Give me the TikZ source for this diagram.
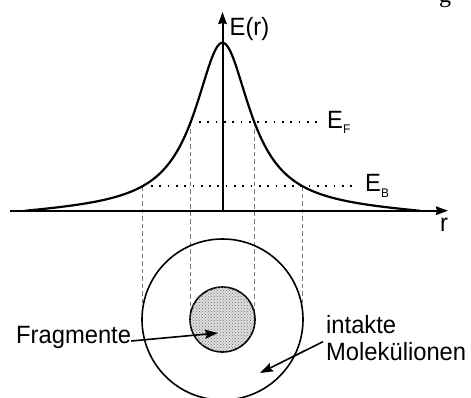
\documentclass[tikz,border=0pt]{standalone}
\usepackage{fontspec}
\usepackage{graphicx}
\setmainfont{Liberation Sans}
\newfontfamily\serifg{Liberation Serif}
\usetikzlibrary{arrows.meta,patterns}
\newcommand\lbltext[1]{\fontsize{25}{27}\selectfont\scalebox{0.95}[1]{#1}}
\newcommand\subtxt[2]{\raisebox{#1}{\fontsize{12.5}{13}\selectfont #2}}
\begin{document}
\begin{tikzpicture}[x=1pt,y=-1pt,
  declare function={h(\r)=168/(1+(\r/33.7)*(\r/33.7))-4.8*(\r/197.5)*(\r/197.5);},
  axisline/.style={line width=2pt,-{Stealth[length=12pt,width=8.5pt,inset=1pt]}},
  curveline/.style={line width=2.2pt},
  dotline/.style={line width=1.7pt,dash pattern=on 1.7pt off 6.6pt},
  dashline/.style={line width=0.6pt,gray,dash pattern=on 4.5pt off 3pt},
  ring/.style={circle,draw,line width=1.6pt,inner sep=0pt},
  ptr/.style={line width=1.6pt,-{Stealth[length=13pt,width=9pt,inset=2pt]}},
  lab/.style={inner sep=0pt,anchor=base west}]
\useasboundingbox (0,0) rectangle (471,397);
\clip (0,0) rectangle (471,397);

% key points
\coordinate (o) at (222.5,210.7);
\coordinate (xl) at (10,210.7);
\coordinate (xe) at (448,210.7);
\coordinate (ye) at (222.5,12);
\coordinate (bl) at (142.7,{210.7-h(-79.8)});
\coordinate (fl) at (190.7,{210.7-h(-31.8)});
\coordinate (fr) at (254.3,{210.7-h(31.8)});
\coordinate (br) at (302.3,{210.7-h(79.8)});
\coordinate (fend) at (320,0);
\coordinate (bend) at (357,0);
\coordinate (obot) at (0,304);
\coordinate (ibot) at (0,317);

% projection lines
\draw[dashline] (bl) -- (bl |- obot);
\draw[dashline] (br) -- (br |- obot);
\draw[dashline] (fl) -- (fl |- ibot);
\draw[dashline] (fr) -- (fr |- ibot);

% energy levels
\draw[dotline] (fl) -- (fl -| fend);
\draw[dotline] (bl) -- (bl -| bend);

% curve
\draw[curveline] plot[domain=-197.5:197.5,samples=241,smooth] ({222.5+\x},{210.7-h(\x)});

% axes
\draw[axisline] (xl) -- (xe);
\draw[axisline] (o) -- (ye);

% circles
\node[ring,minimum size=161pt] (outer) at (222.5,319.5) {};
\node[ring,minimum size=65pt,fill=black!13,postaction={pattern=crosshatch dots,pattern color=black!55}] (inner) at (222.5,319.5) {};

% labels
\node[lab] (Er) at (229.5,35) {\lbltext{E(r)}};
\node[lab] (EF) at (327,128) {\lbltext{E\subtxt{-5pt}{F}}};
\node[lab] (EB) at (365,191) {\lbltext{E\subtxt{-6pt}{B}}};
\node[lab] (rl) at (440,231) {\lbltext{r}};
\node[lab] (frag) at (16,343) {\lbltext{Fragmente}};
\node[lab] (intk) at (326,333) {\lbltext{intakte}};
\node[lab] (mol) at (326,360) {\lbltext{Molekülionen}};
\node[lab] (gfrag) at (439,2) {\serifg\fontsize{24}{24}\selectfont g};

% pointers
\coordinate (ftip) at (218,333);
\coordinate (mtip) at (260,373);
\draw[ptr] ([yshift=-4pt]frag.east) -- (ftip);
\draw[ptr] ([xshift=-3pt]mol.north west) -- (mtip);
\end{tikzpicture}
\end{document}
